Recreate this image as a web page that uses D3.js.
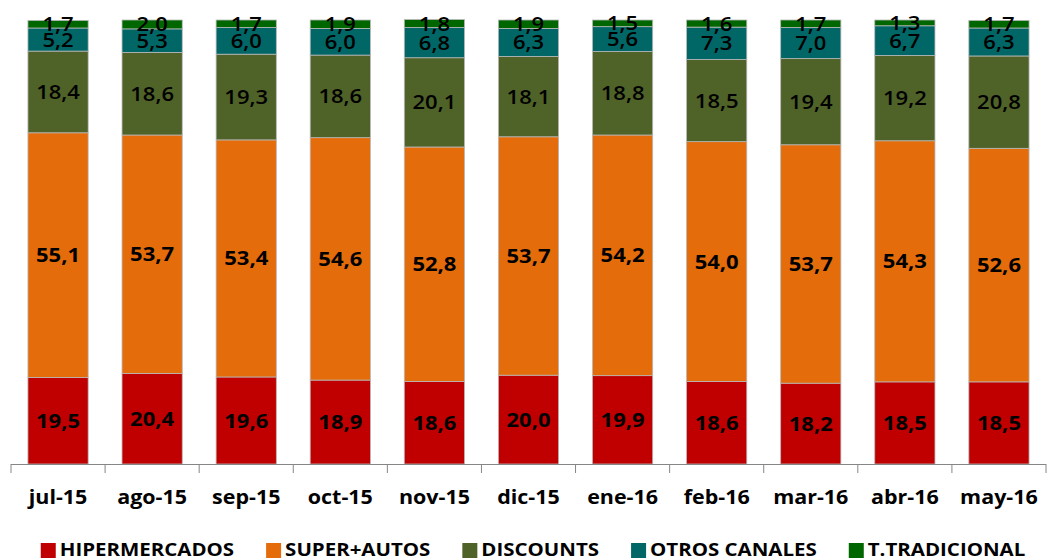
<!DOCTYPE html>
<html>

<head>
    <title>Cuota por canal</title>
    <script src="https://d3js.org/d3.v7.min.js"></script>
    <style>
        body { margin: 0; background: #fff; }
        text { font-family: "Open Sans", sans-serif; }
    </style>
</head>

<body>
    <svg id="chart" width="1056" height="560"></svg>

    <script>
        // months on the x axis
        const months = ["jul-15", "ago-15", "sep-15", "oct-15", "nov-15", "dic-15",
            "ene-16", "feb-16", "mar-16", "abr-16", "may-16"];

        // share per channel (%), bottom to top
        const hipermercados = [19.5, 20.4, 19.6, 18.9, 18.6, 20.0, 19.9, 18.6, 18.2, 18.5, 18.5];
        const superAutos = [55.1, 53.7, 53.4, 54.6, 52.8, 53.7, 54.2, 54.0, 53.7, 54.3, 52.6];
        const discounts = [18.4, 18.6, 19.3, 18.6, 20.1, 18.1, 18.8, 18.5, 19.4, 19.2, 20.8];
        const otrosCanales = [5.2, 5.3, 6.0, 6.0, 6.8, 6.3, 5.6, 7.3, 7.0, 6.7, 6.3];
        const tradicional = [1.7, 2.0, 1.7, 1.9, 1.8, 1.9, 1.5, 1.6, 1.7, 1.3, 1.7];

        const seriesNames = ["HIPERMERCADOS", "SUPER+AUTOS", "DISCOUNTS", "OTROS CANALES", "T.TRADICIONAL"];
        const seriesValues = [hipermercados, superAutos, discounts, otrosCanales, tradicional];
        const colors = ["#c00000", "#e46c0a", "#4f6228", "#006666", "#006600"];
        const boldLabel = [true, true, false, false, false];

        // table for d3.stack
        const table = months.map((m, i) => {
            const row = { month: m };
            seriesNames.forEach((s, k) => row[s] = seriesValues[k][i]);
            return row;
        });

        const svg = d3.select("#chart");
        const plotLeft = 11, plotRight = 1046, plotTop = 20, plotBottom = 464;
        // the original text is a bit wider than Open Sans
        const stretch = 1.13, legendStretch = 1.17;

        const x = d3.scaleBand().domain(months).range([plotLeft, plotRight]).paddingInner(0.36).paddingOuter(0.18);
        const y = d3.scaleLinear().domain([0, 100]).range([plotBottom, plotTop]);
        const color = d3.scaleOrdinal().domain(seriesNames).range(colors);

        const fmt = d3.formatLocale({ decimal: ",", thousands: ".", grouping: [3], currency: ["", "€"] }).format(".1f");

        const stacked = d3.stack().keys(seriesNames)(table);

        const layers = svg.append("g").selectAll("g")
            .data(stacked)
            .join("g")
            .attr("fill", d => color(d.key));

        layers.selectAll("rect")
            .data(d => d)
            .join("rect")
            .attr("x", d => x(d.data.month))
            .attr("width", x.bandwidth())
            .attr("y", d => y(d[1]))
            .attr("height", d => y(d[0]) - y(d[1]))
            .attr("stroke", "#b8b8b8")
            .attr("stroke-width", 0.8);

        // value labels
        const labels = svg.append("g");
        stacked.forEach((layer, k) => {
            labels.append("g").selectAll("text")
                .data(layer)
                .join("text")
                .attr("transform", d => "translate(" + (x(d.data.month) + x.bandwidth() / 2) + "," +
                    ((y(d[0]) + y(d[1])) / 2) + ") scale(" + stretch + ",1)")
                .attr("dy", "0.36em")
                .attr("text-anchor", "middle")
                .attr("font-size", 19.5)
                .attr("font-weight", boldLabel[k] ? 700 : 600)
                .attr("fill", "#000")
                .text(d => fmt(d[1] - d[0]));
        });

        // x axis with ticks between the bands
        const axis = svg.append("g");
        axis.append("line")
            .attr("x1", plotLeft).attr("x2", plotRight)
            .attr("y1", plotBottom + 0.5).attr("y2", plotBottom + 0.5)
            .attr("stroke", "#868686");
        const edges = d3.range(months.length + 1).map(i => plotLeft + i * (plotRight - plotLeft) / months.length);
        axis.selectAll("line.tick")
            .data(edges)
            .join("line")
            .attr("class", "tick")
            .attr("x1", d => d).attr("x2", d => d)
            .attr("y1", plotBottom).attr("y2", plotBottom + 9)
            .attr("stroke", "#868686");
        axis.selectAll("text")
            .data(months)
            .join("text")
            .attr("transform", d => "translate(" + (x(d) + x.bandwidth() / 2) + ",497) scale(" + stretch + ",1)")
            .attr("dy", "0.36em")
            .attr("text-anchor", "middle")
            .attr("font-size", 19)
            .attr("font-weight", 700)
            .attr("fill", "#000")
            .text(d => d);

        // legend
        const legend = svg.append("g");
        const items = legend.selectAll("g")
            .data(seriesNames)
            .join("g");
        items.append("rect")
            .attr("width", 15).attr("height", 15)
            .attr("y", 543)
            .attr("fill", d => color(d));
        items.append("text")
            .attr("transform", "translate(19,550) scale(" + legendStretch + ",1)")
            .attr("dy", "0.36em")
            .attr("font-size", 17.5)
            .attr("font-weight", 700)
            .attr("fill", "#000")
            .text(d => d);
        const gap = 32;
        const widths = [];
        items.each(function () {
            widths.push(19 + legendStretch * d3.select(this).select("text").node().getComputedTextLength());
        });
        const total = d3.sum(widths) + gap * (widths.length - 1);
        let cx = 533 - total / 2;
        items.attr("transform", (d, i) => {
            const t = "translate(" + cx + ",0)";
            cx += widths[i] + gap;
            return t;
        });
    </script>

</body>

</html>
